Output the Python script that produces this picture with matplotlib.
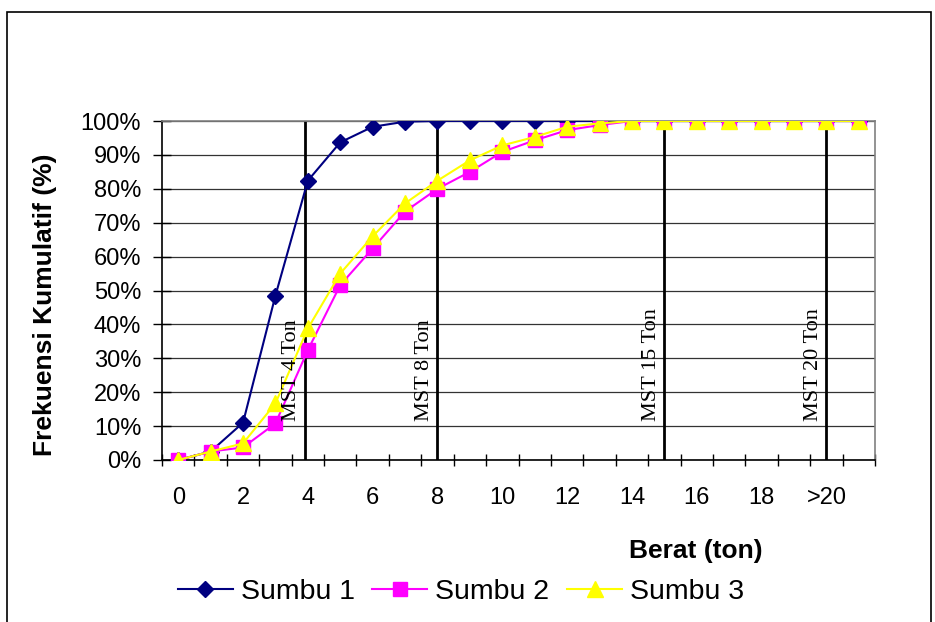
import matplotlib
matplotlib.use("Agg")
import matplotlib.pyplot as plt
from matplotlib.patches import Rectangle
from matplotlib.ticker import FixedLocator, PercentFormatter

# Cumulative frequency (%) of axle loads per weight class (ton)
weight_index = list(range(22))
tick_positions = [0, 2, 4, 6, 8, 10, 12, 14, 16, 18, 20]
tick_labels = ["0", "2", "4", "6", "8", "10", "12", "14", "16", "18", ">20"]

sumbu1 = [0, 2.5, 11, 48.5, 82.4, 93.7, 98.3, 99.8, 100, 100, 100, 100,
          100, 100, 100, 100, 100, 100, 100, 100, 100, 100]
sumbu2 = [0, 2.5, 3.7, 10.8, 32.4, 51.6, 62.4, 73.3, 80.0, 85.0, 90.9, 94.3,
          97.3, 98.8, 100, 100, 100, 100, 100, 100, 100, 100]
sumbu3 = [0, 2.5, 4.9, 16.7, 38.8, 55.0, 66.0, 75.7, 82.4, 88.4, 92.8, 95.3,
          98.3, 99.3, 100, 100, 100, 100, 100, 100, 100, 100]

# Legal axle-load limits (MST) marked on the weight axis
mst_positions = [3.9, 8, 15, 20]
mst_labels = ["MST 4 Ton", "MST 8 Ton", "MST 15 Ton", "MST 20 Ton"]

W, H, DPI = 935, 622, 100
fig = plt.figure(figsize=(W / DPI, H / DPI), dpi=DPI)
fig.patch.set_facecolor("white")

# outer chart border
fig.patches.append(Rectangle((7 / W, -0.02), (931 - 7) / W, 1.02 - 12 / H,
                             transform=fig.transFigure, fill=False,
                             edgecolor="black", linewidth=1.2))

ax = fig.add_axes([162 / W, 1 - 460 / H, (875 - 162) / W, (460 - 121) / H])

sans = "Liberation Sans"
serif = "Liberation Serif"

ax.plot(weight_index, sumbu1, color="#000080", lw=1.5, marker="D",
        markersize=8, markerfacecolor="#000080", markeredgecolor="#000080",
        label="Sumbu 1", zorder=3)
ax.plot(weight_index, sumbu2, color="#FF00FF", lw=1.5, marker="s",
        markersize=9.5, markerfacecolor="#FF00FF", markeredgecolor="#FF00FF",
        label="Sumbu 2", zorder=4)
ax.plot(weight_index, sumbu3, color="#FFFF00", lw=1.5, marker="^",
        markersize=11, markerfacecolor="#FFFF00", markeredgecolor="#FFFF00",
        label="Sumbu 3", zorder=5)

for xp, lab in zip(mst_positions, mst_labels):
    ax.axvline(xp, color="black", lw=2, zorder=2.5)
    ax.text(xp - 0.10, 11.5, lab, rotation=90, ha="right", va="bottom",
            family=serif, fontsize=16, zorder=6)

ax.set_xlim(-0.5, 21.5)
ax.set_ylim(0, 100)

ax.yaxis.set_major_locator(FixedLocator(range(0, 101, 10)))
ax.yaxis.set_major_formatter(PercentFormatter(decimals=0))
ax.grid(axis="y", color="#333333", lw=0.9, zorder=1)

ax.set_xticks(tick_positions)
ax.set_xticklabels(tick_labels)
ax.xaxis.set_minor_locator(FixedLocator([i - 0.5 for i in range(23)]))
ax.tick_params(axis="x", which="major", length=0, pad=19.5)
ax.tick_params(axis="x", which="minor", direction="inout", length=9, width=1)
ax.tick_params(axis="y", direction="inout", length=13, width=1, pad=8.5)
for lab in ax.get_xticklabels() + ax.get_yticklabels():
    lab.set_family(sans)
    lab.set_fontsize(17)

ax.spines["left"].set_color("black")
ax.spines["bottom"].set_color("black")
ax.spines["top"].set_color("#808080")
ax.spines["right"].set_color("#808080")
for s in ax.spines.values():
    s.set_linewidth(1.2)

fig.text(696 / W, 1 - 551 / H, "Berat (ton)", ha="center", va="center",
         family=sans, fontsize=19, fontweight="bold")
fig.text(45 / W, 1 - 305 / H, "Frekuensi Kumulatif (%)", ha="center",
         va="center", rotation=90, family=sans, fontsize=19, fontweight="bold")

fig.legend(loc="center", bbox_to_anchor=(461 / W, 1 - 592 / H), ncol=3,
           frameon=False, prop={"family": sans, "size": 20.5},
           handlelength=1.93, handletextpad=0.28, columnspacing=0.63,
           borderaxespad=0, borderpad=0)

fig.savefig("out.png", dpi=DPI)
